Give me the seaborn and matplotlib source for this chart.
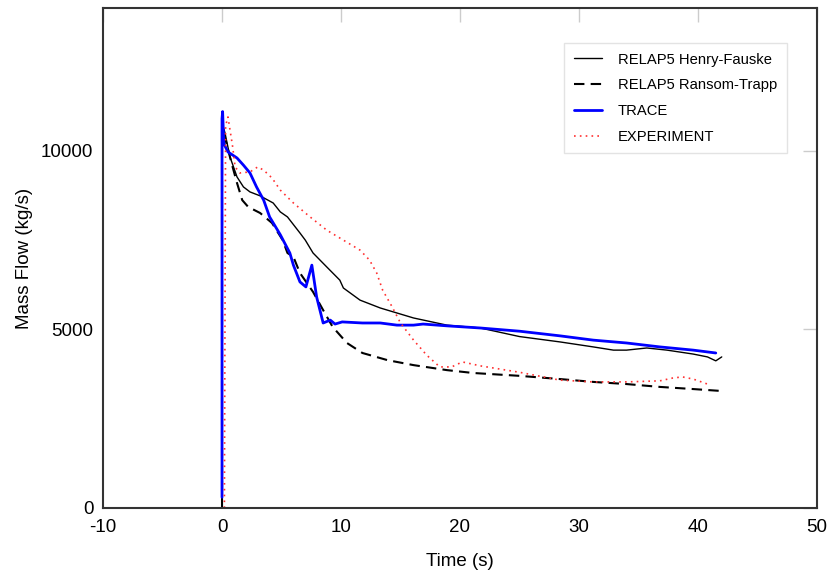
import numpy as np
import pandas as pd
import seaborn as sns
import matplotlib.pyplot as plt

# RELAP5 Henry-Fauske
hf_t = [0.0, 0.0, 0.25, 0.67, 1.26, 1.8, 2.35, 3.2, 4.3, 4.9, 5.5, 6.55, 7.0, 7.65, 8.8,
        9.9, 10.2, 11.6, 13.3, 16.1, 18.9, 21.7, 25.0, 28.4, 31.2, 32.9, 34.0, 35.7,
        37.4, 39.6, 40.8, 41.5, 42.0]
hf_y = [0, 10800, 10500, 9830, 9270, 8990, 8850, 8740, 8540, 8290, 8150, 7700, 7500, 7140, 6750,
        6380, 6160, 5820, 5600, 5320, 5120, 5040, 4800, 4650, 4510, 4420, 4420, 4480,
        4420, 4310, 4230, 4120, 4230]

# RELAP5 Ransom-Trapp
rt_t = [0.0, 0.0, 0.3, 0.8, 1.26, 1.7, 2.2, 3.2, 4.2, 5.1, 5.5, 6.0, 6.55, 7.65, 8.5,
        9.3, 10.5, 11.8, 13.9, 16.1, 18.9, 21.1, 25.0, 28.4, 31.2, 34.0, 36.8, 39.6, 41.8]
rt_y = [0, 10600, 10300, 9660, 9100, 8620, 8430, 8260, 7980, 7500, 7140, 7030, 6580, 6050, 5540,
        5070, 4620, 4340, 4140, 4000, 3860, 3780, 3700, 3610, 3530, 3470, 3390, 3330, 3280]

# TRACE
tr_t = [0.0, 0.0, 0.05, 0.15, 0.5, 1.26, 1.8, 2.35, 2.9, 3.5, 4.0, 4.9, 5.7, 6.0, 6.55,
        7.05, 7.55, 7.95, 8.5, 9.1, 9.5, 10.1, 11.8, 13.3, 14.7, 16.1, 16.9, 18.9,
        21.7, 25.0, 28.4, 31.2, 34.0, 36.8, 39.6, 41.5]
tr_y = [300, 10900, 11100, 10200, 9970, 9800, 9600, 9380, 8990, 8620, 8150, 7650, 7140, 6800, 6330,
        6190, 6800, 5910, 5180, 5260, 5150, 5210, 5180, 5180, 5120, 5120, 5150, 5100,
        5040, 4950, 4820, 4700, 4620, 4510, 4420, 4340]

# EXPERIMENT
ex_t = [0.2, 0.3, 0.5, 0.9, 1.1, 1.5, 2.35, 3.0, 3.5, 4.2, 4.9, 6.0, 7.4, 8.8, 10.2,
        11.6, 12.4, 13.0, 13.5, 14.3, 15.0, 16.1, 17.2, 18.3, 19.3, 20.2, 21.7, 25.0,
        28.4, 31.2, 34.0, 36.8, 37.9, 38.7, 39.6, 40.8]
ex_y = [0, 10700, 10950, 10100, 9550, 9380, 9410, 9550, 9460, 9240, 8900, 8540, 8150, 7780, 7500,
        7220, 6940, 6580, 6100, 5630, 5180, 4700, 4280, 3950, 3950, 4090, 3980, 3800,
        3580, 3530, 3530, 3560, 3640, 3670, 3610, 3470]

series = [
    ("RELAP5 Henry-Fauske", hf_t, hf_y),
    ("RELAP5 Ransom-Trapp", rt_t, rt_y),
    ("TRACE", tr_t, tr_y),
    ("EXPERIMENT", ex_t, ex_y),
]
frames = []
for name, t, y in series:
    frames.append(pd.DataFrame({"Time": t, "Flow": y, "Case": name}))
df = pd.concat(frames, ignore_index=True)

styles = {
    "RELAP5 Henry-Fauske": dict(color="black", lw=1.0, ls="-"),
    "RELAP5 Ransom-Trapp": dict(color="black", lw=1.5, ls=(0, (5, 3))),
    "TRACE": dict(color="#0000ff", lw=2.0, ls="-"),
    "EXPERIMENT": dict(color="#ff3030", lw=1.2, ls=(0, (1, 2.5))),
}

sns.set_style("white")
plt.rcParams["font.family"] = ["Liberation Sans", "DejaVu Sans"]
plt.rcParams["axes.unicode_minus"] = False
plt.rcParams["text.color"] = "black"
plt.rcParams["axes.labelcolor"] = "black"

fig = plt.figure(figsize=(8.33, 5.76), dpi=100)
ax = fig.add_axes([0.1237, 0.1181, 0.857, 0.868])

for name, _, _ in series:
    st = styles[name]
    sns.lineplot(data=df[df["Case"] == name], x="Time", y="Flow", ax=ax,
                 sort=False, estimator=None, color=st["color"], linewidth=st["lw"],
                 linestyle=st["ls"], label=name)

ax.set_xlim(-10, 50)
ax.set_ylim(0, 14000)
ax.set_xticks(np.arange(-10, 51, 10))
ax.set_yticks([0, 5000, 10000])
ax.tick_params(direction="in", length=10, width=1, color="#cccccc", labelcolor="black",
               top=True, right=True, labelsize=13.5)
ax.tick_params(axis="x", pad=8)
ax.tick_params(axis="y", pad=7)
for sp in ax.spines.values():
    sp.set_visible(True)
    sp.set_color("#333333")
    sp.set_linewidth(1.5)

ax.set_xlabel("Time (s)", fontsize=13.5, labelpad=12)
ax.set_ylabel("Mass Flow (kg/s)", fontsize=13.5, labelpad=6)

leg = ax.legend(loc="upper right", bbox_to_anchor=(0.958, 0.93), borderaxespad=0,
                fontsize=10.6, frameon=True, fancybox=False, edgecolor="#dddddd",
                borderpad=0.65, labelspacing=0.8, handlelength=1.9, handletextpad=1.1)
leg.get_frame().set_linewidth(1.0)

fig.savefig("out.png", dpi=100)
